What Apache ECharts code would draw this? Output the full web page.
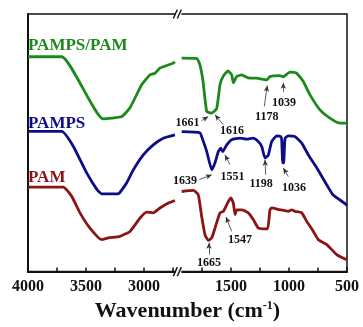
<!DOCTYPE html>
<html>
<head>
<meta charset="utf-8">
<script src="https://cdn.jsdelivr.net/npm/echarts@6/dist/echarts.min.js"></script>
<style>
  html, body { margin: 0; padding: 0; background: #fff; }
  #chart { width: 363px; height: 327px; }
</style>
</head>
<body>
<div id="chart"></div>
<script>
// 横轴断开：2725 ~ 1975 cm-1 之间被压缩掉
const BREAK_HI = 2725;
const BREAK_LO = 1975;
const toV = w => (w > BREAK_LO ? w - (BREAK_HI - BREAK_LO) : w);
const toW = v => (v > BREAK_LO ? v + (BREAK_HI - BREAK_LO) : v);

// 刻度标签
const tickLabels = [4000, 3500, 3000, 1500, 1000, 500];

// PAMPS/PAM（绿色）
const pampsPamWave = [4000, 3709, 3353, 3192, 3121, 3020, 2948, 2905, 2862, 2750, 2733, null,
  1925, 1796, 1767, 1741, 1709, 1666, 1623, 1595, 1569, 1526, 1494, 1480, 1451, 1408, 1353, 1278,
  1192, 1164, 1078, 1049, 1034, 991, 934, 877, 819, 733, 647, 560, 500];
const pampsPamT = [83.4, 83.4, 59.3, 60.2, 63.6, 72.5, 76.4, 77.0, 79.0, 80.9, 81.4, null,
  82.9, 82.8, 80.2, 73.8, 62.1, 61.5, 63.4, 72.5, 75.7, 77.9, 76.4, 73.3, 75.7, 76.4, 75.2, 75.1,
  74.4, 75.7, 76.1, 75.6, 76.1, 77.4, 77.0, 73.8, 68.6, 62.8, 59.6, 57.6, 57.6];

// PAMPS（蓝色）
const pampsWave = [4000, 3709, 3609, 3494, 3405, 3365, 3222, 3190, 3149, 3092, 3006, 2920, 2834, 2733, null,
  1925, 1767, 1753, 1709, 1666, 1638, 1609, 1589, 1572, 1537, 1494, 1422, 1365, 1308, 1265,
  1235, 1207, 1178, 1149, 1106, 1071, 1063, 1054, 1046, 1034, 1006, 948, 890, 833, 761,
  675, 621, 517, 500];
const pampsT = [54.4, 54.4, 48.6, 38.3, 31.8, 30.2, 30.2, 31.8, 34.5, 39.5, 45.3, 49.2, 51.8, 53.1, null,
  54.3, 53.9, 52.4, 46.6, 39.5, 42.2, 46.6, 47.9, 46.6, 49.2, 51.2, 51.8, 51.4, 51.8, 50.5,
  48.6, 44.1, 45.3, 50.5, 52.7, 52.4, 51.2, 42.2, 42.2, 51.8, 52.7, 52.4, 49.9, 45.3, 40.3,
  33.7, 29.8, 26.4, 25.6];

// PAM（红色）
const pamWave = [4000, 3696, 3623, 3552, 3466, 3365, 3308, 3207, 3121, 3034, 2977, 2920, 2862, 2790, 2733, null,
  1925, 1825, 1782, 1753, 1724, 1696, 1666, 1638, 1595, 1566, 1523, 1500, 1480, 1465, 1451,
  1408, 1351, 1308, 1265, 1222, 1184, 1164, 1149, 1078, 1006, 977, 948, 890, 847, 790,
  747, 675, 589, 517, 500];
const pamT = [32.8, 32.8, 29.2, 22.8, 16.9, 12.4, 13.1, 13.7, 15.6, 20.8, 23.1, 22.8, 24.7, 26.6, 27.6, null,
  31.1, 31.5, 29.8, 21.4, 14.3, 12.1, 13.1, 16.9, 22.8, 23.4, 27.2, 28.6, 26.6, 22.1, 24.0,
  24.0, 22.8, 20.2, 16.9, 16.6, 16.6, 24.0, 24.7, 24.0, 23.4, 24.0, 23.4, 22.8, 19.5, 15.6,
  12.4, 10.5, 6.6, 4.9, 4.7];

const SERIF = '"Liberation Serif", "Times New Roman", serif';
const GREEN = '#1b8a1b';
const BLUE = '#0d0d8a';
const RED = '#8c1414';

// 曲线名称
const seriesNames = ['PAMPS/PAM', 'PAMPS', 'PAM'];
const seriesColors = [GREEN, BLUE, RED];
const nameLabelPos = [[4000, 87.6], [4000, 57.6], [4000, 36.4]];

// 峰位标注：文字位置、箭头起点、箭头终点（波数, 纵坐标）
const peakNotes = [
  { text: '1039', at: [1043, 65.4], from: [1049, 69.8], to: [1049, 73.3], series: 0 },
  { text: '1178', at: [1192, 60.0], from: [1213, 64.1], to: [1187, 72.2], series: 0 },
  { text: '1661', at: [1875, 57.6], from: [1753, 58.6], to: [1696, 60.2], series: 0 },
  { text: '1616', at: [1491, 54.7], from: [1566, 57.0], to: [1638, 60.9], series: 0 },
  { text: '1639', at: [1896, 35.4], from: [1773, 35.7], to: [1666, 37.6], series: 1 },
  { text: '1551', at: [1487, 36.9], from: [1509, 41.5], to: [1552, 45.3], series: 1 },
  { text: '1198', at: [1241, 34.1], from: [1201, 37.6], to: [1207, 43.4], series: 1 },
  { text: '1036', at: [957, 32.4], from: [1006, 36.9], to: [1049, 40.2], series: 1 },
  { text: '1547', at: [1422, 12.4], from: [1494, 15.6], to: [1543, 21.2], series: 2 },
  { text: '1665', at: [1690, 3.4], from: [1690, 6.6], to: [1690, 11.2], series: 2 }
];

function buildData(waves, ts) {
  return waves.map((w, i) => (w === null ? [BREAK_LO - 20, null] : [toV(w), ts[i]]));
}

const chart = echarts.init(document.getElementById('chart'), null, { renderer: 'canvas' });

const seriesData = [
  buildData(pampsPamWave, pampsPamT),
  buildData(pampsWave, pampsT),
  buildData(pamWave, pamT)
];

const option = {
  animation: false,
  backgroundColor: '#fff',
  grid: {
    left: 28, right: 16, top: 14, bottom: 55,
    show: true, borderColor: '#111', borderWidth: 1.5, backgroundColor: 'transparent'
  },
  xAxis: {
    type: 'value',
    inverse: true,
    min: 500,
    max: 3250,
    interval: 250,
    axisLine: { show: true, lineStyle: { color: '#111', width: 2 } },
    axisTick: { show: true, inside: true, length: 4, lineStyle: { color: '#111', width: 1.5 } },
    splitLine: { show: false },
    axisLabel: {
      color: '#111', fontFamily: SERIF, fontWeight: 'bold', fontSize: 16, margin: 7,
      formatter: v => (tickLabels.includes(toW(v)) ? String(toW(v)) : '')
    },
    name: '{b|Wavenumber (cm}{s|-1}{b|)}',
    nameLocation: 'middle',
    nameGap: 24,
    nameTextStyle: {
      rich: {
        b: { fontFamily: SERIF, fontWeight: 'bold', fontSize: 22, color: '#111' },
        s: { fontFamily: SERIF, fontWeight: 'bold', fontSize: 12, color: '#111', padding: [0, 0, 11, 0] }
      }
    }
  },
  yAxis: {
    type: 'value',
    min: 0,
    max: 100,
    axisLine: { show: true, lineStyle: { color: '#111', width: 2 } },
    axisTick: { show: false },
    axisLabel: { show: false },
    splitLine: { show: false }
  },
  series: seriesData.map((data, k) => ({
    name: seriesNames[k],
    type: 'line',
    data: data,
    showSymbol: false,
    smooth: 0.15,
    connectNulls: false,
    lineStyle: { color: seriesColors[k], width: 2.8 },
    z: 3,
    markLine: {
      silent: true,
      symbol: ['none', 'arrow'],
      symbolSize: [4, 6],
      label: { show: false },
      lineStyle: { color: '#333', width: 0.8, type: 'solid' },
      data: peakNotes.filter(n => n.series === k).map(n => [
        { coord: [toV(n.from[0]), n.from[1]] },
        { coord: [toV(n.to[0]), n.to[1]] }
      ])
    }
  }))
};

chart.setOption(option);

// 文字标注与断轴符号
const graphics = [];
seriesNames.forEach((name, k) => {
  const p = chart.convertToPixel({ gridIndex: 0 }, [toV(nameLabelPos[k][0]), nameLabelPos[k][1]]);
  graphics.push({
    type: 'text', x: p[0], y: p[1], z: 100,
    style: { text: name, align: 'left', verticalAlign: 'middle',
      font: 'bold 17px ' + SERIF, fill: seriesColors[k] }
  });
});
peakNotes.forEach(n => {
  const p = chart.convertToPixel({ gridIndex: 0 }, [toV(n.at[0]), n.at[1]]);
  graphics.push({
    type: 'text', x: p[0], y: p[1], z: 100,
    style: { text: n.text, align: 'center', verticalAlign: 'middle',
      font: 'bold 12px ' + SERIF, fill: '#111' }
  });
});

// 断点位置取两段数据端点的中点
const leftEnd = toV(2733);
const rightStart = toV(1925);
const bx = chart.convertToPixel({ xAxisIndex: 0 }, (leftEnd + rightStart) / 2);
[100, 0].forEach(t => {
  const by = chart.convertToPixel({ yAxisIndex: 0 }, t);
  graphics.push({ type: 'rect', z: 101, shape: { x: bx - 3, y: by - 2, width: 6, height: 4 }, style: { fill: '#fff' } });
  graphics.push({ type: 'line', z: 102, shape: { x1: bx - 5, y1: by + 4.5, x2: bx - 1, y2: by - 4.5 }, style: { stroke: '#111', lineWidth: 1.4 } });
  graphics.push({ type: 'line', z: 102, shape: { x1: bx - 1, y1: by + 4.5, x2: bx + 3, y2: by - 4.5 }, style: { stroke: '#111', lineWidth: 1.4 } });
});

chart.setOption({ graphic: graphics });
</script>
</body>
</html>
